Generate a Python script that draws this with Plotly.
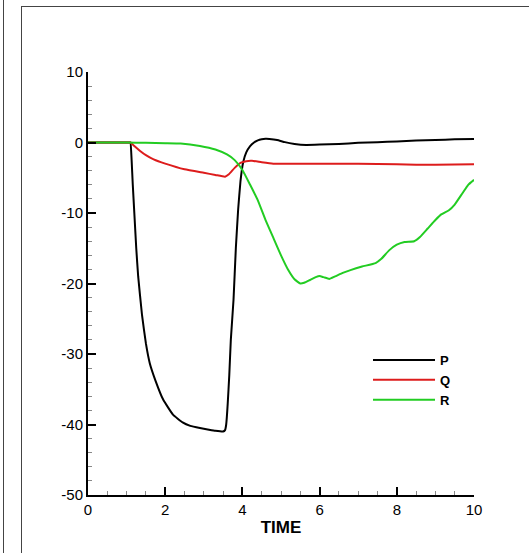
import plotly.graph_objects as go

# ---- data ----
P_T = [0, 0.5, 1.0, 1.07, 1.1, 1.13, 1.16, 1.2, 1.25, 1.3, 1.4, 1.5, 1.6, 1.75, 1.95, 2.2, 2.45,
       2.65, 2.9, 3.1, 3.3, 3.5, 3.55, 3.58, 3.62, 3.66, 3.7, 3.77, 3.83, 3.89, 3.95, 4.02, 4.1,
       4.2, 4.3, 4.4, 4.5, 4.6, 4.7, 4.9, 5.1, 5.35, 5.65, 6.0, 6.5, 7.0, 7.5, 8.0, 8.5, 9.0,
       9.5, 10]
P_V = [0, 0, 0, 0, 0, -2.5, -6, -10, -15, -19, -24.5, -28.5, -31.3, -33.8, -36.5, -38.6, -39.7,
       -40.2, -40.5, -40.7, -40.9, -41.0, -40.8, -40.0, -37.0, -33.0, -28, -22.3, -15, -9.5,
       -5.5, -2.8, -1.4, -0.5, 0.0, 0.3, 0.45, 0.52, 0.5, 0.35, 0.05, -0.2, -0.35, -0.3, -0.2,
       -0.05, 0.05, 0.15, 0.3, 0.35, 0.45, 0.5]

Q_T = [0, 0.5, 1.0, 1.1, 1.2, 1.35, 1.5, 1.7, 2.0, 2.5, 3.0, 3.3, 3.55, 3.65, 3.8, 3.95, 4.1,
       4.25, 4.5, 4.8, 5.5, 6.5, 7.5, 8.5, 9.0, 10]
Q_V = [0, 0, 0, 0, -0.5, -1.2, -1.8, -2.4, -3.0, -3.8, -4.3, -4.6, -4.85, -4.5, -3.6, -2.9,
       -2.65, -2.6, -2.8, -3.0, -3.0, -3.0, -3.05, -3.15, -3.15, -3.1]

R_T = [0, 1.0, 1.5, 2.0, 2.4, 2.9, 3.3, 3.6, 3.8, 4.0, 4.2, 4.4, 4.6, 4.8, 5.0, 5.2, 5.35,
       5.5, 5.6, 5.75, 5.9, 6.0, 6.1, 6.25, 6.4, 6.6, 6.8, 7.1, 7.45, 7.6, 7.8, 8.0, 8.2,
       8.45, 8.6, 8.8, 9.0, 9.15, 9.35, 9.5, 9.7, 9.85, 10]
R_V = [0, 0, -0.05, -0.1, -0.15, -0.5, -1.0, -1.7, -2.5, -3.9, -6.0, -8.2, -11.0, -13.5,
       -16.0, -18.2, -19.4, -20.0, -19.9, -19.5, -19.1, -18.95, -19.1, -19.35, -19.0,
       -18.5, -18.1, -17.6, -17.1, -16.5, -15.3, -14.5, -14.1, -14.0, -13.4, -12.2, -11.0,
       -10.2, -9.6, -8.8, -7.2, -6.0, -5.3]

X_TICKS = [0, 2, 4, 6, 8, 10]
X_TICK_LABELS = ["0", "2", "4", "6", "8", "10"]
Y_TICKS = [-50, -40, -30, -20, -10, 0, 10]
Y_TICK_LABELS = ["-50", "-40", "-30", "-20", "-10", "0", "10"]

FONT = "Liberation Sans, Arial, Helvetica, sans-serif"

fig = go.Figure()
for name, t, v, col, sm in [("P", P_T, P_V, "#000000", 0.3),
                            ("Q", Q_T, Q_V, "#dd1c1c", 0.4),
                            ("R", R_T, R_V, "#22cc22", 0.4)]:
    fig.add_trace(go.Scatter(x=t, y=v, mode="lines", name=name,
                             line=dict(color=col, width=2, shape="spline", smoothing=sm)))

W, H = 529, 553
L, R_, T, B = 88, 474, 72, 495
def px(x):
    return (x - L) / (R_ - L)
def py(y):
    return (B - y) / (B - T)

shapes = [
    dict(type="line", xref="paper", yref="paper", x0=px(3.5), x1=px(3.5), y0=py(0), y1=py(553),
         line=dict(color="#444", width=1)),
    dict(type="line", xref="paper", yref="paper", x0=px(21.5), x1=px(21.5), y0=py(6), y1=py(553),
         line=dict(color="#444", width=1)),
    dict(type="line", xref="paper", yref="paper", x0=px(21.5), x1=px(529), y0=py(6.5), y1=py(6.5),
         line=dict(color="#444", width=1)),
]

fig.update_layout(
    width=W, height=H,
    margin=dict(l=L, r=W - R_, t=T, b=H - B, pad=0),
    paper_bgcolor="white", plot_bgcolor="white",
    font=dict(family=FONT, size=15, color="#000"),
    showlegend=True,
    legend=dict(x=px(368), y=py(345), xanchor="left", yanchor="top",
                bgcolor="rgba(0,0,0,0)", borderwidth=0, itemwidth=62,
                font=dict(family=FONT, size=13, weight="bold"), tracegroupgap=0),
    shapes=shapes,
    xaxis=dict(range=[0, 10], tickvals=X_TICKS, ticktext=X_TICK_LABELS,
               ticks="inside", ticklen=8, tickwidth=2, tickcolor="#000",
               showline=True, linewidth=2, linecolor="#000", showgrid=False, zeroline=False,
               minor=dict(ticks="inside", ticklen=4, tickwidth=1, tickcolor="#888", dtick=0.5,
                          showgrid=False),
               title=dict(text="TIME", font=dict(family=FONT, size=17, weight="bold"), standoff=4)),
    yaxis=dict(range=[-50, 10], tickvals=Y_TICKS, ticktext=Y_TICK_LABELS,
               ticks="inside", ticklen=8, tickwidth=2, tickcolor="#000",
               showline=True, linewidth=2, linecolor="#000", showgrid=False, zeroline=False,
               minor=dict(ticks="inside", ticklen=4, tickwidth=1, tickcolor="#888", dtick=2,
                          showgrid=False)),
)

fig.write_html("out.html")
